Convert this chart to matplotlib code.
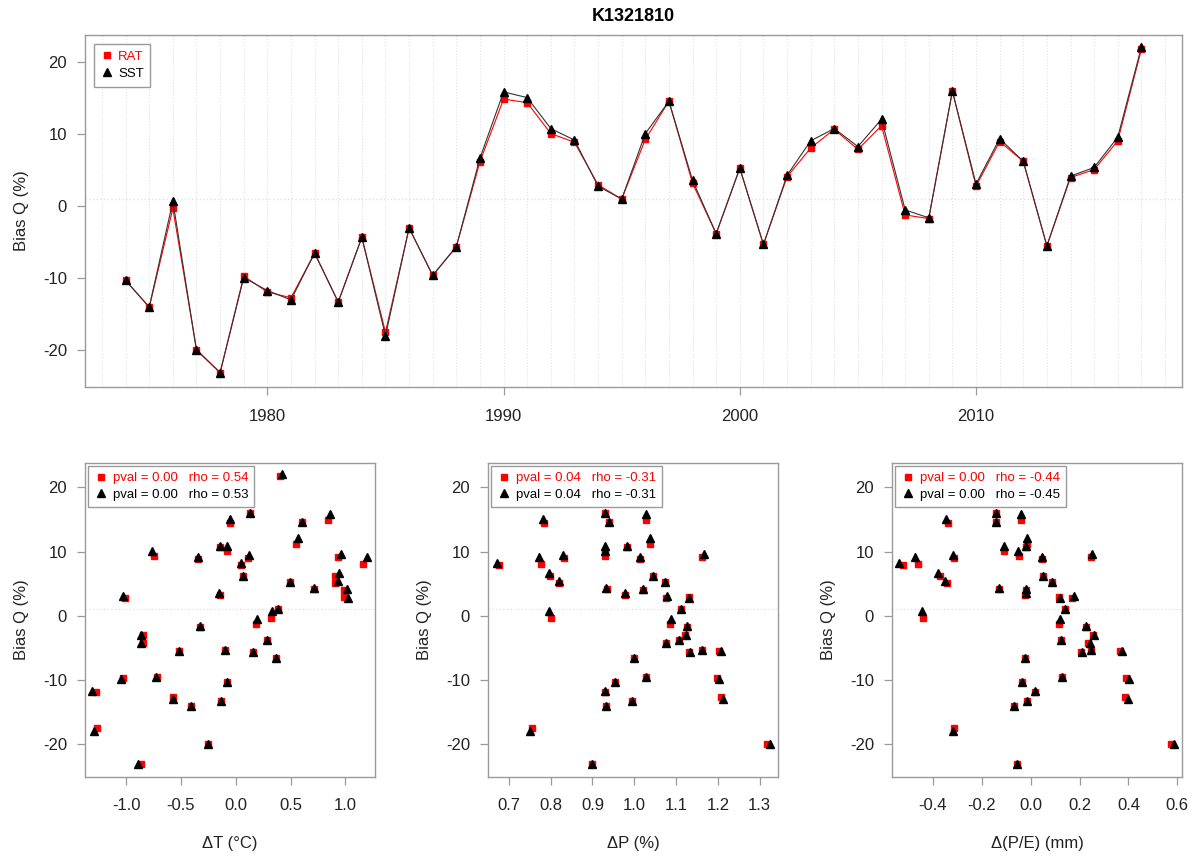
import matplotlib
matplotlib.use("Agg")
import matplotlib.pyplot as plt
from matplotlib.lines import Line2D

plt.rcParams['font.family'] = ['Liberation Sans', 'DejaVu Sans']
plt.rcParams['axes.unicode_minus'] = False

station = "K1321810"

years = list(range(1974, 2018))

# bias of streamflow Q (%) for the two runs
bias_rat = [-10.3, -14.0, -0.3, -19.9, -23.1, -9.7, -11.9, -12.7, -6.5, -13.3,
            -4.3, -17.5, -3.0, -9.6, -5.6, 6.2, 14.9, 14.4, 10.1, 8.9,
            3.0, 1.0, 9.3, 14.6, 3.2, -3.8, 5.3, -5.3, 4.1, 8.1,
            10.7, 7.9, 11.2, -1.2, -1.7, 16.0, 2.8, 9.0, 6.25, -5.5,
            4.0, 5.1, 9.1, 21.8]
bias_sst = [-10.3, -14.0, 0.7, -20.0, -23.1, -9.9, -11.7, -13.0, -6.5, -13.3,
            -4.3, -18.0, -3.0, -9.6, -5.6, 6.7, 15.9, 15.1, 10.8, 9.2,
            2.8, 1.0, 10.1, 14.6, 3.6, -3.8, 5.3, -5.3, 4.3, 9.1,
            10.8, 8.3, 12.1, -0.5, -1.6, 16.0, 3.1, 9.4, 6.25, -5.5,
            4.2, 5.4, 9.6, 22.1]

# temperature change (degC)
dT_rat = [-0.082, -0.41, 0.32, -0.255, -0.866, -1.03, -1.277, -0.568, 0.368, -0.137,
          -0.848, -1.264, -0.848, -0.714, 0.155, 0.906, 0.84, -0.05, -0.08, -0.34,
          0.99, 0.39, -0.745, 0.60, -0.143, 0.289, 0.495, -0.097, 0.71, 1.164,
          -0.14, 0.05, 0.547, 0.185, -0.325, 0.13, -1.01, 0.113, 0.07, -0.52,
          0.99, 0.906, 0.93, 0.404]
dT_sst = [-0.082, -0.41, 0.33, -0.255, -0.89, -1.05, -1.307, -0.574, 0.368, -0.137,
          -0.866, -1.292, -0.866, -0.723, 0.155, 0.94, 0.86, -0.05, -0.08, -0.343,
          1.027, 0.39, -0.763, 0.60, -0.152, 0.289, 0.495, -0.097, 0.717, 1.195,
          -0.14, 0.05, 0.565, 0.198, -0.325, 0.13, -1.03, 0.12, 0.07, -0.52,
          1.018, 0.933, 0.957, 0.42]

# precipitation change
dP_rat = [0.955, 0.933, 0.801, 1.318, 0.90, 1.199, 0.929, 1.207, 0.999, 0.995,
          1.075, 0.756, 1.121, 1.028, 1.131, 0.799, 1.027, 0.785, 0.93, 1.013,
          1.131, 1.113, 0.93, 0.939, 0.978, 1.107, 1.073, 1.161, 0.935, 0.777,
          0.982, 0.676, 1.037, 1.085, 1.126, 0.929, 1.077, 0.832, 1.046, 1.202,
          1.021, 0.821, 1.161, 0.85]
dP_sst = [0.955, 0.933, 0.797, 1.326, 0.90, 1.204, 0.929, 1.212, 0.999, 0.995,
          1.075, 0.751, 1.123, 1.029, 1.134, 0.796, 1.029, 0.781, 0.929, 1.013,
          1.132, 1.113, 0.929, 0.939, 0.978, 1.107, 1.073, 1.161, 0.933, 0.773,
          0.982, 0.671, 1.038, 1.089, 1.126, 0.929, 1.079, 0.829, 1.046, 1.208,
          1.021, 0.820, 1.166, 0.85]

# P/E change (mm)
dPE_rat = [-0.034, -0.07, -0.44, 0.573, -0.056, 0.389, 0.016, 0.387, -0.025, -0.014,
           0.235, -0.314, 0.255, 0.13, 0.207, -0.372, -0.038, -0.338, -0.11, 0.048,
           0.115, 0.142, -0.049, -0.14, -0.025, 0.125, 0.089, 0.248, -0.13, -0.461,
           -0.017, -0.522, -0.014, 0.115, 0.225, -0.14, 0.17, -0.314, 0.05, 0.364,
           -0.02, -0.342, 0.245, -0.25]
dPE_sst = [-0.034, -0.07, -0.443, 0.586, -0.056, 0.401, 0.016, 0.398, -0.025, -0.014,
           0.241, -0.318, 0.26, 0.13, 0.211, -0.379, -0.038, -0.348, -0.11, 0.048,
           0.119, 0.142, -0.052, -0.14, -0.02, 0.125, 0.089, 0.248, -0.13, -0.472,
           -0.017, -0.539, -0.014, 0.119, 0.225, -0.14, 0.176, -0.318, 0.05, 0.375,
           -0.02, -0.349, 0.252, -0.25]

stats_rat = ["pval = 0.00   rho = 0.54", "pval = 0.04   rho = -0.31", "pval = 0.00   rho = -0.44"]
stats_sst = ["pval = 0.00   rho = 0.53", "pval = 0.04   rho = -0.31", "pval = 0.00   rho = -0.45"]
xlabels = ["\u0394T (\u00b0C)", "\u0394P (%)", "\u0394(P/E) (mm)"]
xticks = [[-1.0, -0.5, 0.0, 0.5, 1.0],
          [0.7, 0.8, 0.9, 1.0, 1.1, 1.2, 1.3],
          [-0.4, -0.2, 0.0, 0.2, 0.4, 0.6]]
xlims = [(-1.374, 1.27), (0.650, 1.344), (-0.567, 0.619)]

W, H = 1197, 857
ylim = (-25.1, 23.8)
box_col = "#9a9a9a"
grid_col = "#e2e2e2"
sq_ms, tri_ms = 5.0, 6.0


def style_axes(ax):
    for s in ax.spines.values():
        s.set_color(box_col)
        s.set_linewidth(1.0)
    ax.tick_params(direction="out", length=6, width=0.9, color=box_col,
                   labelsize=12, pad=7, labelcolor="#222222")
    ax.set_ylim(*ylim)
    ax.set_yticks([-20, -10, 0, 10, 20])
    ax.set_ylabel("Bias Q (%)", fontsize=12, labelpad=10, color="#222222")
    ax.axhline(1.0, color=grid_col, ls=":", lw=1.0, zorder=0)


fig = plt.figure(figsize=(W / 100, H / 100), dpi=100)

# time series panel
ax = fig.add_axes([85 / W, 1 - 387 / H, (1182 - 85) / W, (387 - 35) / H])
style_axes(ax)
for yr in range(1973, 2019):
    ax.axvline(yr, color=grid_col, ls=":", lw=0.8, zorder=0)
ax.plot(years, bias_rat, color="red", lw=0.8, marker="s", ms=sq_ms, mec="red", zorder=3)
ax.plot(years, bias_sst, color="#333333", lw=0.8, marker="^", ms=tri_ms,
        mfc="black", mec="black", zorder=4)
ax.set_xlim(1972.28, 2018.72)
ax.set_xticks([1980, 1990, 2000, 2010])
ax.tick_params(axis="x", pad=10)
ax.set_title(station, fontsize=13, fontweight="bold", pad=10)
h = [Line2D([], [], ls="none", marker="s", ms=4.6, color="red"),
     Line2D([], [], ls="none", marker="^", ms=5.6, color="black")]
leg = ax.legend(h, ["RAT", "SST"], loc="upper left", fontsize=9.5, fancybox=False,
                edgecolor=box_col, framealpha=1, handletextpad=0.3,
                handlelength=1.0, borderaxespad=0.7, labelspacing=0.35,
                borderpad=0.5)
leg.get_texts()[0].set_color("red")

# scatter panels
lefts = [85, 488, 892]
xs_rat = [dT_rat, dP_rat, dPE_rat]
xs_sst = [dT_sst, dP_sst, dPE_sst]
for i in range(3):
    ax = fig.add_axes([lefts[i] / W, 1 - 777 / H, 290 / W, (777 - 463) / H])
    style_axes(ax)
    ax.plot(xs_rat[i], bias_rat, ls="none", marker="s", ms=sq_ms, color="red", zorder=3)
    ax.plot(xs_sst[i], bias_sst, ls="none", marker="^", ms=tri_ms, color="black", zorder=4)
    ax.set_xlim(*xlims[i])
    ax.set_xticks(xticks[i])
    ax.set_xticklabels(["%.1f" % v for v in xticks[i]])
    ax.tick_params(axis="x", pad=9)
    ax.set_xlabel(xlabels[i], fontsize=12, labelpad=17, color="#222222")
    leg = ax.legend(h, [stats_rat[i], stats_sst[i]], loc="upper left", fontsize=9.5,
                    fancybox=False, edgecolor=box_col, framealpha=1,
                    handletextpad=0.4, handlelength=1.0, borderaxespad=0.25,
                    labelspacing=0.3, borderpad=0.45)
    leg.set_zorder(10)
    leg.get_texts()[0].set_color("red")

fig.savefig("out.png", dpi=100)
